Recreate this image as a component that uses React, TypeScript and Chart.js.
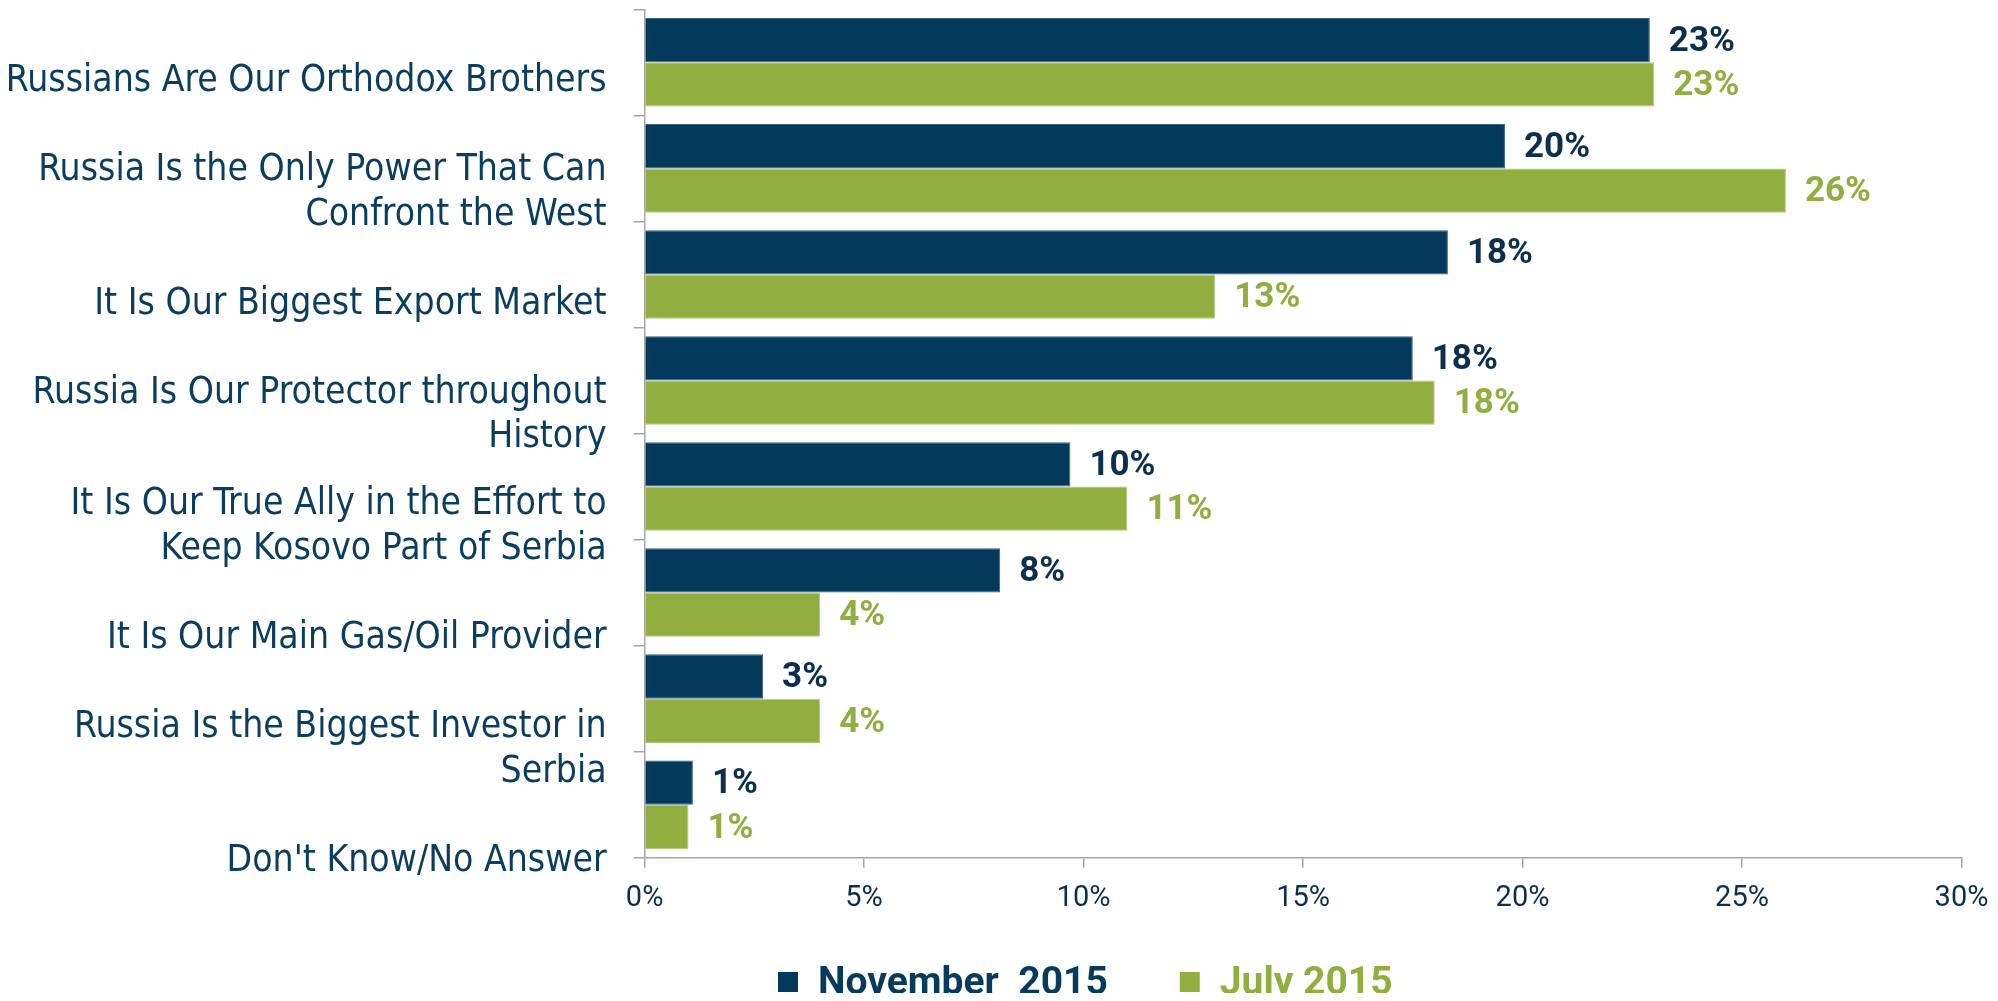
import React, { useEffect, useRef } from 'react';
import { Chart, registerables } from 'chart.js';

Chart.register(...registerables);

// ---- data ----
const categoryLines: string[][] = [
  ['Russians Are Our Orthodox Brothers'],
  ['Russia Is the Only Power That Can', 'Confront the West'],
  ['It Is Our Biggest Export Market'],
  ['Russia Is Our Protector throughout', 'History'],
  ['It Is Our True Ally in the Effort to', 'Keep Kosovo Part of Serbia'],
  ['It Is Our Main Gas/Oil Provider'],
  ['Russia Is the Biggest Investor in', 'Serbia'],
  ["Don't Know/No Answer"],
];
const november2015 = [22.9, 19.6, 18.3, 17.5, 9.7, 8.1, 2.7, 1.1];
const july2015 = [23.0, 26.0, 13.0, 18.0, 11.0, 4.0, 4.0, 1.0];
const seriesNames = ['November  2015', 'July 2015'];
const xTickValues = [0, 5, 10, 15, 20, 25, 30];

// ---- styles ----
const NAVY = '#033a5c';
const GREEN = '#92ae40';
const NAVY_TEXT = '#0c2f4f';
const LABEL_TEXT = '#0a3d5e';
const AXIS = '#a6a6a6';
const CAT_FONT = "'DejaVu Sans Condensed', Roboto, sans-serif";
const NUM_FONT = "Roboto, 'Liberation Sans', sans-serif";
const valueLabelColors = [NAVY_TEXT, GREEN];
const legendTextColors = ['#073b5c', GREEN];

const valueLabels = {
  id: 'valueLabels',
  afterDatasetsDraw(chart: any) {
    const ctx = chart.ctx;
    ctx.save();
    ctx.font = `bold 35px ${NUM_FONT}`;
    ctx.textBaseline = 'middle';
    ctx.textAlign = 'left';
    chart.data.datasets.forEach((ds: any, i: number) => {
      const meta = chart.getDatasetMeta(i);
      if (meta.hidden) return;
      ctx.fillStyle = valueLabelColors[i];
      meta.data.forEach((el: any, j: number) => {
        const v = ds.data[j] as number;
        ctx.fillText(Math.round(v) + '%', el.x + 19, el.y + 2);
      });
    });
    ctx.restore();
  },
};

const bottomLegend = {
  id: 'bottomLegend',
  afterDraw(chart: any) {
    const ctx = chart.ctx;
    ctx.save();
    ctx.font = `bold 39px ${NUM_FONT}`;
    ctx.textBaseline = 'middle';
    ctx.textAlign = 'left';
    const box = 20;
    const gap = 20;
    const cy = 974;
    let x = 770;
    chart.data.datasets.forEach((ds: any, i: number) => {
      ctx.fillStyle = ds.backgroundColor;
      ctx.fillRect(x, cy - box / 2, box, box);
      ctx.fillStyle = legendTextColors[i];
      ctx.fillText(ds.label, x + box + gap, cy + 2);
      x += box + gap + ctx.measureText(ds.label).width + 72;
    });
    ctx.restore();
  },
};

export default function App() {
  const ref = useRef<HTMLCanvasElement | null>(null);

  useEffect(() => {
    if (!ref.current) return;
    const chart = new Chart(ref.current, {
      type: 'bar',
      data: {
        labels: categoryLines.map((l) => l.join(' ')),
        datasets: [
          {
            label: seriesNames[0],
            data: november2015,
            backgroundColor: NAVY,
            borderColor: '#3a6582',
            borderWidth: 1,
            xAxisID: 'x',
            yAxisID: 'y',
            categoryPercentage: 0.835,
            barPercentage: 1.0,
          },
          {
            label: seriesNames[1],
            data: july2015,
            backgroundColor: GREEN,
            borderColor: '#b2c67c',
            borderWidth: 1,
            xAxisID: 'x',
            yAxisID: 'y',
            categoryPercentage: 0.835,
            barPercentage: 1.0,
          },
        ],
      },
      options: {
        indexAxis: 'y',
        animation: false,
        responsive: false,
        devicePixelRatio: 1,
        layout: { padding: { top: 1.3, right: 28.5, bottom: 75.3, left: 0 } },
        plugins: {
          legend: { display: false },
          tooltip: { enabled: false },
          title: { display: false },
        },
        scales: {
          x: {
            type: 'linear',
            position: 'bottom',
            min: 0,
            max: 30,
            afterBuildTicks: (s: any) => {
              s.ticks = xTickValues.map((v) => ({ value: v }));
            },
            ticks: {
              callback: (v: any) => v + '%',
              color: NAVY_TEXT,
              font: { family: NUM_FONT, size: 29 },
              padding: 14,
              autoSkip: false,
              maxRotation: 0,
            },
            grid: {
              drawOnChartArea: false,
              drawTicks: true,
              tickLength: 10,
              color: AXIS,
              lineWidth: 1.5,
            },
            border: { display: true, color: AXIS, width: 1.5 },
            afterFit: (s: any) => {
              s.height = 60;
              s.paddingLeft = 0;
              s.paddingRight = 0;
            },
          },
          y: {
            type: 'category',
            position: 'left',
            weight: 0,
            offset: true,
            grid: {
              offset: true,
              drawOnChartArea: false,
              drawTicks: true,
              tickLength: 11,
              color: AXIS,
              lineWidth: 1.5,
            },
            border: { display: true, color: AXIS, width: 1.5 },
            ticks: { display: false },
          },
          yl: {
            type: 'linear',
            position: 'left',
            weight: 10,
            offset: false,
            min: -0.6472,
            max: 6.9686,
            reverse: true,
            afterBuildTicks: (s: any) => {
              s.ticks = categoryLines.map((_, i) => ({ value: i }));
            },
            ticks: {
              autoSkip: false,
              padding: 27,
              color: LABEL_TEXT,
              font: { family: CAT_FONT, size: 37, lineHeight: 1.2 },
              callback: (_v: any, i: number) => categoryLines[i] ?? '',
            },
            grid: { display: false, drawTicks: false, offset: false },
            border: { display: false },
            afterFit: (s: any) => {
              s.width = 625.6;
              s.paddingTop = 0;
              s.paddingBottom = 0;
            },
          },
        },
      } as any,
      plugins: [valueLabels, bottomLegend],
    });
    return () => chart.destroy();
  }, []);

  return (
    <div style={{ width: 1982, height: 985, position: 'relative' }}>
      <canvas
        ref={ref}
        width={1982}
        height={985}
        style={{ width: 1982, height: 985, display: 'block' }}
      />
    </div>
  );
}
